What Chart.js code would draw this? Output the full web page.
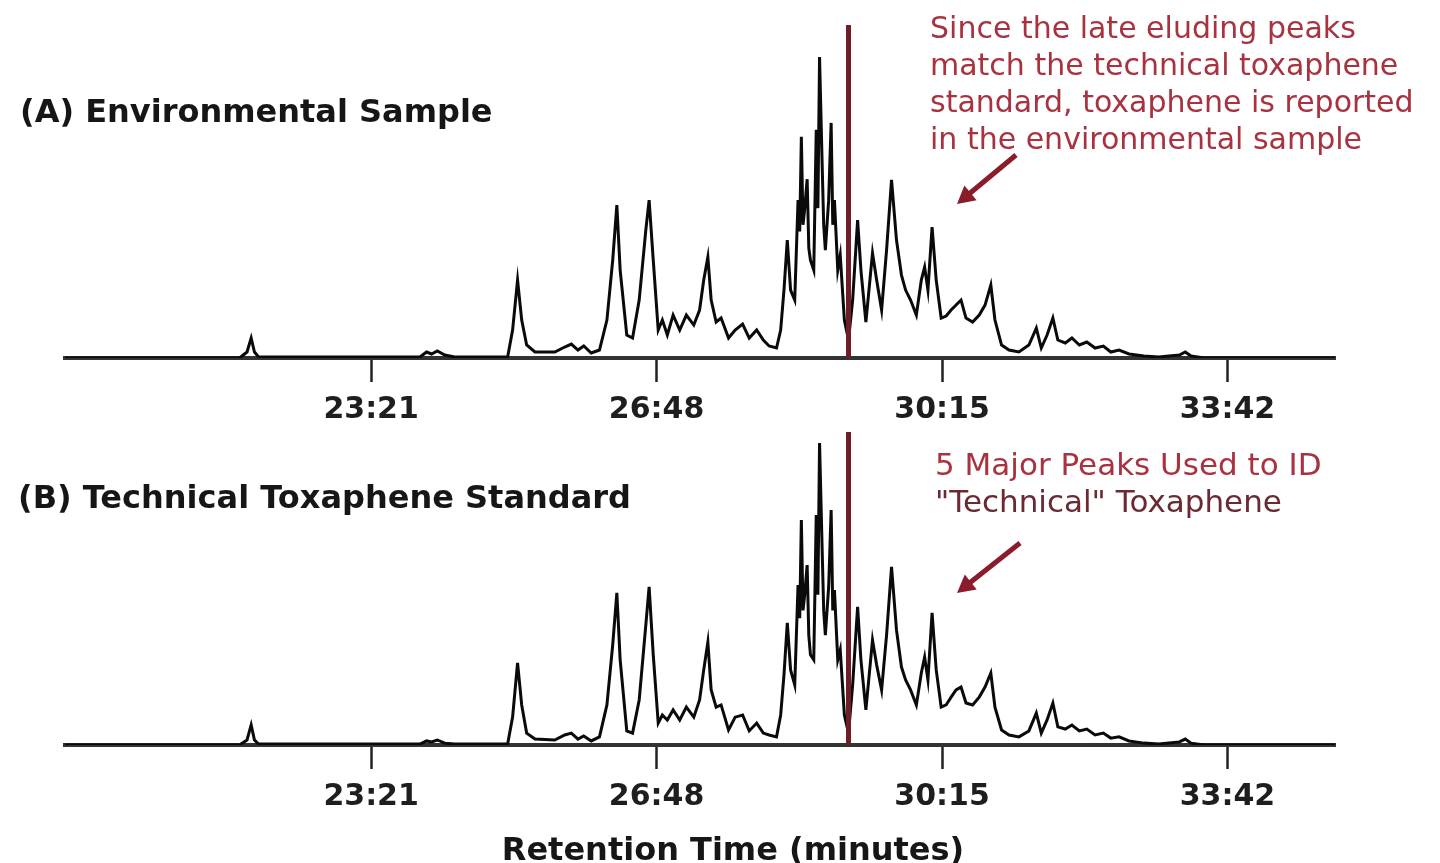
<!DOCTYPE html>
<html>
<head>
<meta charset="utf-8">
<script src="https://cdn.jsdelivr.net/npm/chart.js@4.4.1/dist/chart.umd.min.js"></script>
<style>
  body { margin: 0; background: #fff; width: 1440px; height: 863px; position: relative; overflow: hidden; font-family: 'DejaVu Sans', sans-serif; }
  canvas { position: absolute; left: 0; }
  #chartA { top: 0; }
  #chartB { top: 430px; }
  .txt { position: absolute; white-space: nowrap; }
  .title { font-weight: bold; font-size: 32px; line-height: 1; color: #161616; }
  .note { font-size: 30px; line-height: 37px; color: #a8323f; }
</style>
</head>
<body>
<canvas id="chartA" width="1440" height="430"></canvas>
<canvas id="chartB" width="1440" height="433"></canvas>

<div class="txt title" style="left:20px; top:95px;">(A) Environmental Sample</div>
<div class="txt title" style="left:18px; top:481px;">(B) Technical Toxaphene Standard</div>
<div class="txt title" style="left:433px; width:600px; text-align:center; top:833px;">Retention Time (minutes)</div>

<div class="txt note" style="left:930px; top:9px;">Since the late eluding peaks<br>match the technical toxaphene<br>standard, toxaphene is reported<br>in the environmental sample</div>
<div class="txt note" style="left:935px; top:446px; font-size:31px;">5 Major Peaks Used to ID<br><span style="color:#6a2a31">"Technical" Toxaphene</span></div>

<script>
// retention time in minutes, shared by both runs
const retentionTime = [
  19.65, 21.76, 21.85, 21.90, 21.94, 21.99, 23.94, 24.02, 24.08, 24.15,
  24.24, 24.36, 25.00, 25.06, 25.12, 25.17, 25.23, 25.33, 25.57, 25.69,
  25.77, 25.85, 25.92, 26.01, 26.11, 26.20, 26.27, 26.32, 26.36, 26.44,
  26.51, 26.59, 26.67, 26.71, 26.76, 26.82, 26.87, 26.93, 27.00, 27.08,
  27.16, 27.25, 27.32, 27.37, 27.42, 27.46, 27.52, 27.58, 27.67, 27.75,
  27.84, 27.92, 28.01, 28.09, 28.16, 28.25, 28.30, 28.34, 28.38, 28.42,
  28.47, 28.51, 28.53, 28.55, 28.57, 28.59, 28.62, 28.64, 28.66, 28.70,
  28.73, 28.75, 28.77, 28.80, 28.82, 28.84, 28.88, 28.91, 28.93, 28.95,
  28.99, 29.02, 29.07, 29.12, 29.17, 29.23,
  29.27, 29.33, 29.41, 29.46, 29.52, 29.58, 29.64, 29.70, 29.76, 29.81,
  29.87, 29.94, 30.00, 30.04, 30.08, 30.13, 30.18, 30.24, 30.30, 30.36,
  30.42, 30.48, 30.54, 30.62, 30.70, 30.77, 30.84, 30.89, 30.97, 31.06,
  31.18, 31.30, 31.39, 31.45, 31.52, 31.59, 31.65, 31.74, 31.82, 31.91,
  32.00, 32.10, 32.20, 32.29, 32.39, 32.51, 32.69, 32.87, 33.12, 33.19,
  33.26, 33.42, 35.00
]

// (A) environmental sample, relative response
const environmental = [
  0, 0, 1.8, 6.0, 1.8, 0.3, 0.3, 1.8, 1.2, 2.1,
  0.9, 0.3, 0.3, 8.4, 23.4, 11.4, 3.9, 1.8, 1.8, 3.3,
  4.2, 2.4, 3.6, 1.5, 2.4, 11.4, 29.4, 45.9, 26.4, 6.9,
  6.0, 17.4, 38.4, 47.4, 29.4, 8.4, 11.4, 6.9, 12.9, 8.4,
  12.9, 9.9, 14.4, 23.4, 30.3, 17.4, 10.8, 12.0, 6.0, 8.4,
  10.2, 6.0, 8.4, 5.4, 3.6, 3.0, 8.4, 20.4, 35.4, 20.4,
  17.4, 47.4, 38.0, 66.4, 40.0, 44.7, 53.7, 33.0, 29.4, 26.4,
  68.5, 45.0, 90.4, 59.5, 40.0, 32.4, 47.4, 70.6, 40.0, 47.4,
  26.4, 30.9, 11.4, 5.4, 17.4, 41.4,
  26.4, 10.8, 31.5, 23.4, 14.4, 32.4, 53.5, 35.4, 24.9, 20.4,
  17.4, 12.9, 23.4, 27.3, 20.4, 39.3, 23.4, 12.0, 12.6, 14.4,
  15.9, 17.4, 12.0, 10.8, 12.9, 15.9, 21.9, 11.4, 3.9, 2.4,
  1.8, 3.9, 9.0, 3.0, 6.9, 12.0, 5.4, 4.5, 6.0, 3.9,
  4.8, 3.0, 3.6, 1.8, 2.4, 1.2, 0.6, 0.3, 0.9, 1.8,
  0.6, 0, 0
]

// (B) technical toxaphene standard, relative response
const technical = [
  0, 0, 1.6, 6.4, 1.6, 0.3, 0.3, 1.3, 1.0, 1.6,
  0.6, 0.3, 0.3, 8.9, 26.2, 12.8, 3.8, 1.9, 1.6, 3.2,
  3.8, 1.9, 2.9, 1.3, 2.6, 12.8, 32.0, 48.6, 27.2, 4.5,
  3.8, 14.4, 38.3, 50.5, 28.8, 7.0, 9.6, 8.0, 11.2, 8.0,
  12.1, 8.9, 14.4, 24.0, 32.9, 17.6, 12.1, 12.8, 4.8, 8.9,
  9.6, 4.5, 7.0, 3.8, 3.2, 2.6, 9.6, 22.4, 39.0, 24.0,
  19.2, 51.1, 40.5, 71.9, 43.0, 47.9, 57.5, 35.0, 28.8, 27.2,
  73.5, 48.0, 96.5, 63.9, 43.0, 35.1, 50.5, 75.1, 43.0, 49.5,
  27.2, 30.4, 9.6, 3.8, 19.2, 44.1,
  27.2, 11.2, 33.5, 25.6, 17.6, 35.1, 56.9, 36.7, 24.9, 20.8,
  17.6, 12.8, 23.0, 28.1, 20.8, 42.2, 24.0, 12.1, 12.8, 15.3,
  17.6, 18.5, 13.4, 12.8, 15.3, 18.5, 23.0, 12.1, 4.8, 3.2,
  2.6, 4.5, 10.2, 3.8, 8.0, 13.4, 5.8, 5.1, 6.4, 4.5,
  5.1, 3.2, 3.8, 2.2, 2.6, 1.3, 0.6, 0.3, 1.0, 1.9,
  0.6, 0, 0
]

// marker line height and position (minutes)
const markerTime = 29.12
const markerTop = 100

const tickTimes = [23.35, 26.8, 30.25, 33.7]
const tickLabels = ['23:21', '26:48', '30:15', '33:42']

// red pointer arrow drawn over the chart
const arrowPlugin = (x1, y1, x2, y2) => ({
	id: 'pointer',
	afterDraw(chart) {
		const ctx = chart.ctx
		const ang = Math.atan2(y2 - y1, x2 - x1)
		const head = 20
		ctx.save()
		ctx.strokeStyle = '#8b1c2c'
		ctx.fillStyle = '#8b1c2c'
		ctx.lineWidth = 5
		ctx.beginPath()
		ctx.moveTo(x1, y1)
		ctx.lineTo(x2 - Math.cos(ang) * head * 0.8, y2 - Math.sin(ang) * head * 0.8)
		ctx.stroke()
		ctx.beginPath()
		ctx.moveTo(x2, y2)
		ctx.lineTo(x2 - head * Math.cos(ang - 0.5), y2 - head * Math.sin(ang - 0.5))
		ctx.lineTo(x2 - head * Math.cos(ang + 0.5), y2 - head * Math.sin(ang + 0.5))
		ctx.closePath()
		ctx.fill()
		ctx.restore()
	},
})

const chromatogram = (id, values, padTop, axisHeight, arrow) => {
	const ctx = document.getElementById(id).getContext('2d')
	return new Chart(ctx, {
		type: 'line',
		data: {
			datasets: [
				{
					label: 'marker',
					data: [
						{ x: markerTime, y: 0 },
						{ x: markerTime, y: markerTop },
					],
					borderColor: '#6e1e26',
					borderWidth: 5,
					pointRadius: 0,
					clip: false,
					order: 0,
				},
				{
					label: 'trace',
					data: retentionTime.map((t, i) => ({ x: t, y: values[i] })),
					borderColor: '#0a0a0a',
					borderWidth: 3,
					pointRadius: 0,
					tension: 0,
					order: 1,
				},
			],
		},
		options: {
			responsive: false,
			animation: false,
			events: [],
			layout: { padding: { left: 65, right: 105, top: padTop, bottom: 0 } },
			plugins: { legend: { display: false }, tooltip: { enabled: false } },
			scales: {
				x: {
					type: 'linear',
					min: 19.65,
					max: 35,
					afterBuildTicks: (scale) => {
						scale.ticks = tickTimes.map((v) => ({ value: v }))
					},
					afterFit: (scale) => {
						scale.height = axisHeight
					},
					ticks: {
						callback: (v, i) => tickLabels[i],
						font: { family: 'DejaVu Sans', weight: 'bold', size: 30 },
						color: '#1e1e1e',
						padding: 10,
						maxRotation: 0,
						autoSkip: false,
					},
					grid: { drawOnChartArea: false, tickLength: 24, tickWidth: 2.5, tickColor: '#222' },
					border: { color: '#333', width: 4 },
				},
				y: { display: false, min: 0, max: markerTop },
			},
		},
		plugins: [arrowPlugin(...arrow)],
	})
}

chromatogram('chartA', environmental, 25, 72, [1016, 155, 957, 204])
chromatogram('chartB', technical, 2, 118, [1020, 113, 957, 163])
</script>
</body>
</html>
